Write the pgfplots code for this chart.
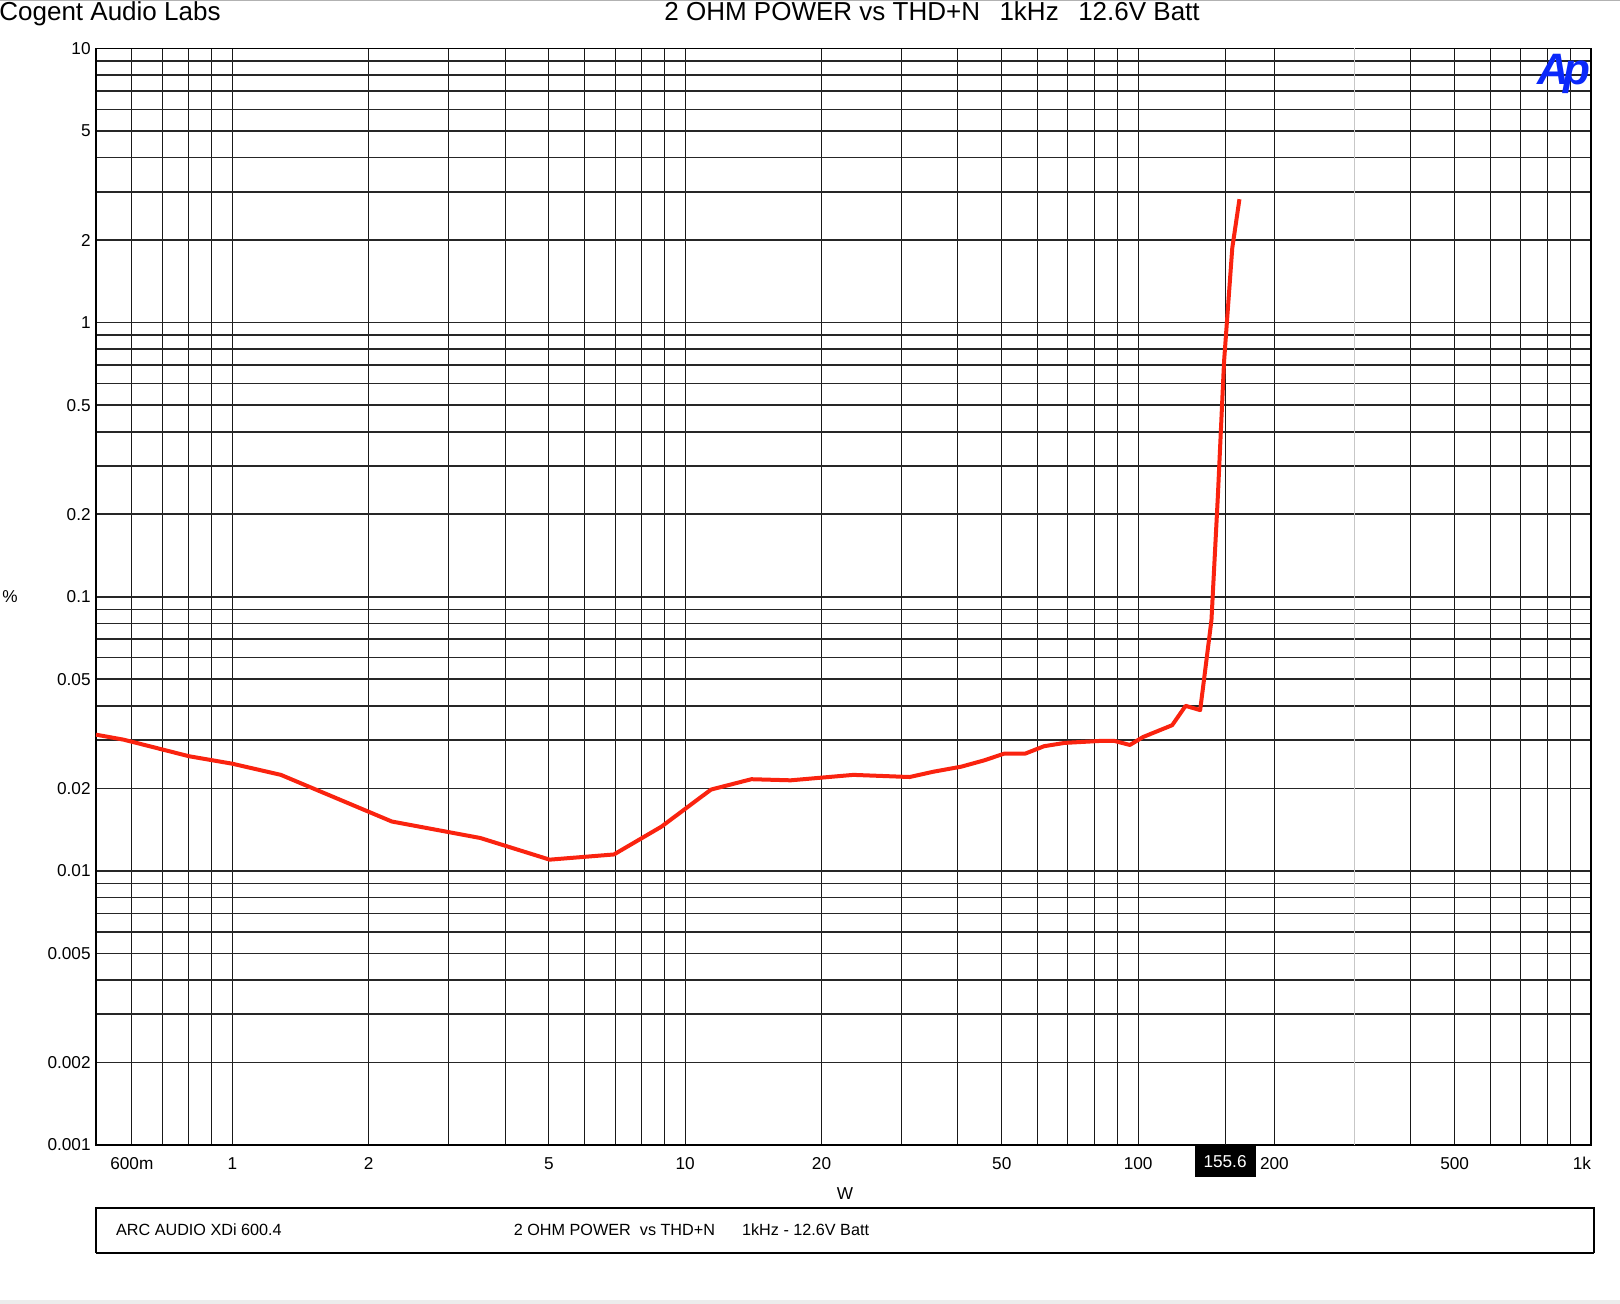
\documentclass[border=0pt]{standalone}
\usepackage{pgfplots}
\pgfplotsset{compat=1.18}
\usepackage{fontspec}
\setmainfont{Liberation Sans}
\definecolor{apred}{RGB}{250,35,15}
\definecolor{apblue}{RGB}{10,40,250}
\begin{document}
\begin{tikzpicture}
\path[use as bounding box] (0,0) rectangle (810pt,-652pt);
\begin{axis}[
  at={(48pt,-572.5pt)}, anchor=south west,
  width=747.5pt, height=548.25pt, scale only axis,
  xmode=log, ymode=log,
  xmin=0.5, xmax=1000, ymin=0.001, ymax=10,
  xtick={0.6,0.7,0.8,0.9,1,2,3,4,5,6,7,8,9,10,20,30,40,50,60,70,80,90,100,200,400,500,600,700,800,900,1000},
  xticklabels={600m,,,,1,2,,,5,,,,,10,20,,,50,,,,,100,200,,500,,,,,\makebox[0pt][r]{1k}},
  ytick={0.001,0.002,0.003,0.004,0.005,0.006,0.007,0.008,0.009,0.01,0.02,0.03,0.04,0.05,0.06,0.07,0.08,0.09,0.1,0.2,0.3,0.4,0.5,0.6,0.7,0.8,0.9,1,2,3,4,5,6,7,8,9,10},
  yticklabels={0.001,0.002,,,0.005,,,,,0.01,0.02,,,0.05,,,,,0.1,0.2,,,0.5,,,,,1,2,,,5,,,,,10},
  extra x ticks={155.6},
  extra x tick labels={155.6},
  extra x tick style={grid=major, xticklabel style={fill=black, text=white, inner xsep=4.5pt, inner ysep=4.8pt}},
  major tick length=0pt,
  grid=major,
  x grid style={black!90, line width=0.5pt},
  y grid style={black!85, line width=0.8pt},
  axis line style={black, line width=0.9pt},
  ticklabel style={font=\fontsize{8.6}{10}\selectfont},
  xticklabel style={inner ysep=5.8pt, text height=6.2pt, text depth=0pt},
  yticklabel style={inner xsep=2.5pt},
]
\draw[black!22, line width=0.5pt] (axis cs:300,0.001) -- (axis cs:300,10);
\addplot[color=apred, line width=2pt, line join=round, mark=none] coordinates {
(0.5,0.0314)
(0.576,0.0301)
(0.802,0.0262)
(1.0,0.0246)
(1.28,0.0224)
(2.25,0.01514)
(3.53,0.01318)
(5.02,0.01099)
(6.96,0.01148)
(8.86,0.0145)
(11.4,0.0198)
(14.0,0.0216)
(17.1,0.0214)
(23.5,0.0224)
(31.3,0.0220)
(35.3,0.0230)
(40.7,0.0240)
(45.7,0.0253)
(50.7,0.0268)
(56.4,0.0268)
(62.0,0.0285)
(68.8,0.0293)
(82.7,0.0298)
(88.6,0.0298)
(95.9,0.0288)
(102.6,0.0308)
(118.9,0.0340)
(127.3,0.0400)
(137.1,0.0386)
(145.2,0.0822)
(150,0.233)
(154.8,0.721)
(161.4,1.87)
(167.4,2.82)
};
\end{axis}
\begin{scope}[x=0.5pt,y=-0.5pt]
\draw[gray!60, line width=1pt] (0,0.5) -- (1620,0.5);
\fill[gray!15] (0,1300) rectangle (1620,1304);
\node[anchor=base west, inner sep=0, font=\fontsize{13}{14}\selectfont] at (-1,20.7) {Cogent Audio Labs};
\node[anchor=base west, inner sep=0, font=\fontsize{13}{14}\selectfont] at (664,20.7) {2 OHM POWER vs THD+N\hspace{0.75em}1kHz\hspace{0.75em}12.6V Batt};
\node[anchor=west, inner sep=0, font=\fontsize{8.6}{10}\selectfont] at (2,597) {\%};
\node[anchor=center, inner sep=0, font=\fontsize{8.6}{10}\selectfont] at (845,1194) {W};
\draw[line width=0.6pt] (96,1208) rectangle (1594,1252.5);
\draw[line width=1pt] (96,1208) -- (1594,1208);
\draw[line width=1pt] (96,1252.5) -- (1594,1252.5);
\node[anchor=base west, inner sep=0, font=\fontsize{8.1}{10}\selectfont] at (115.7,1235) {ARC AUDIO XDi 600.4};
\node[anchor=base west, inner sep=0, font=\fontsize{8.1}{10}\selectfont] at (513.4,1235) {2 OHM POWER};
\node[anchor=base west, inner sep=0, font=\fontsize{8.1}{10}\selectfont] at (639.5,1235) {vs THD+N};
\node[anchor=base west, inner sep=0, font=\fontsize{8.1}{10}\selectfont] at (741.7,1235) {1kHz - 12.6V Batt};
\node[anchor=base west, inner sep=0, text=apblue, font=\fontsize{22}{22}\selectfont\bfseries\itshape] at (1537,85) {A\kern-0.12em p};
\end{scope}
\end{tikzpicture}
\end{document}
